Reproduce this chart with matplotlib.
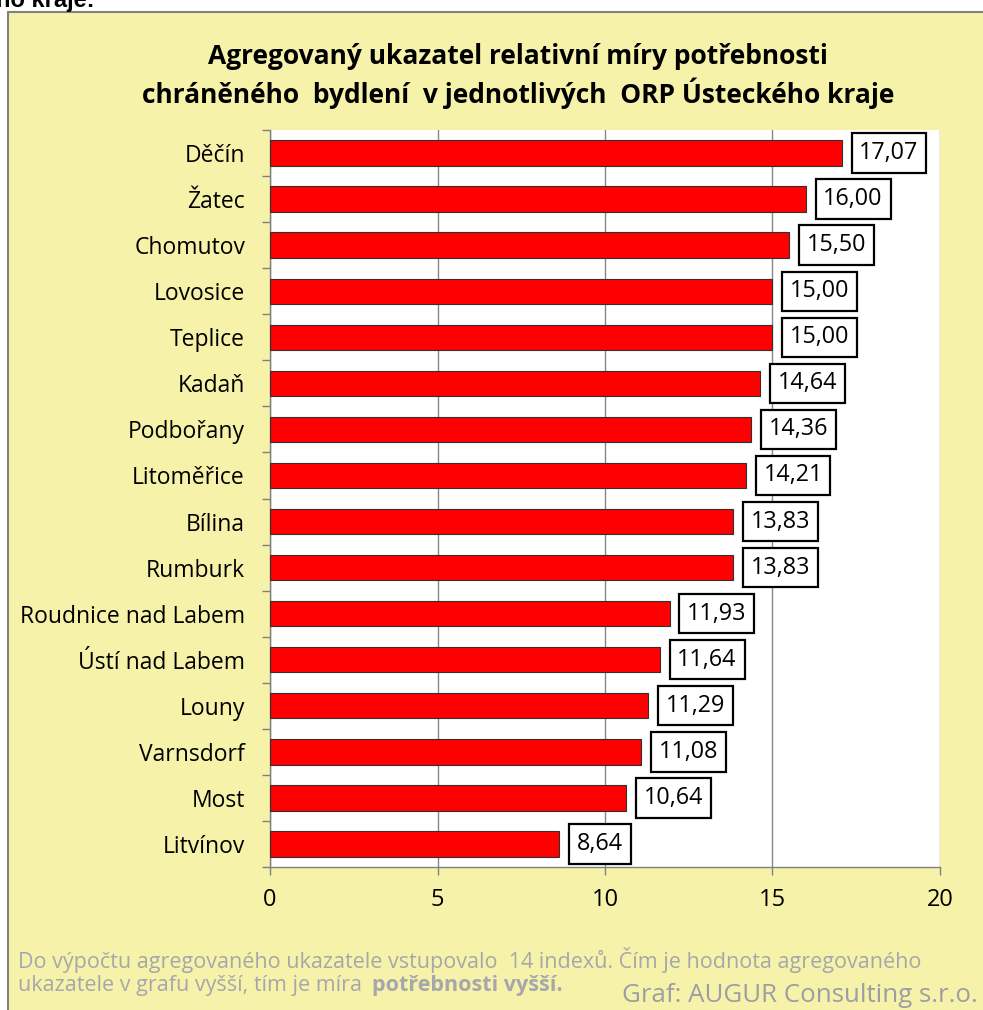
import matplotlib.pyplot as plt
from matplotlib.patches import Rectangle

# data (top to bottom as shown)
towns = ["Děčín", "Žatec", "Chomutov", "Lovosice", "Teplice", "Kadaň", "Podbořany",
         "Litoměřice", "Bílina", "Rumburk", "Roudnice nad Labem", "Ústí nad Labem",
         "Louny", "Varnsdorf", "Most", "Litvínov"]
values = [17.07, 16.00, 15.50, 15.00, 15.00, 14.64, 14.36, 14.21, 13.83, 13.83,
          11.93, 11.64, 11.29, 11.08, 10.64, 8.64]
xticks = [0, 5, 10, 15, 20]

FONT = ["Open Sans", "DejaVu Sans"]
YELLOW = "#F6F2A9"
GREY_TXT = "#A6A7AD"

fig = plt.figure(figsize=(9.83, 10.10), dpi=100)
fig.patch.set_facecolor("white")

# yellow chart panel with grey border
fig.patches.append(Rectangle((8 / 983, -0.1), 1.1, 1 - 12 / 1010 + 0.1,
                             transform=fig.transFigure, facecolor=YELLOW,
                             edgecolor="#808080", linewidth=1.5, zorder=-10))

# cut-off heading from the surrounding document
fig.text(-4 / 983, 1 - 1 / 1010, "ho kraje:", fontsize=17, fontweight="bold",
         family=["Liberation Sans", "DejaVu Sans"], ha="left", va="center")

ax = fig.add_axes([270 / 983, 1 - 867 / 1010, 670 / 983, 737 / 1010])
ax.set_facecolor("white")

ypos = list(range(len(towns)))
ax.barh(ypos, values, height=0.55, color="#FF0000", edgecolor="#303030",
        linewidth=0.8, zorder=3)

for y, v in zip(ypos, values):
    ax.annotate(f"{v:.2f}".replace(".", ","), xy=(v, y), xytext=(12.5, 0),
                textcoords="offset points", ha="left", va="center",
                fontsize=16.8, family=FONT, zorder=5,
                bbox=dict(boxstyle="square,pad=0.33", facecolor="white",
                          edgecolor="black", linewidth=1.6))

ax.set_xlim(0, 20)
ax.set_ylim(len(towns) - 0.5, -0.5)
ax.set_xticks(xticks)
ax.set_xticklabels([str(t) for t in xticks], fontsize=17, family=FONT)
ax.set_yticks(ypos)
ax.set_yticklabels(towns, fontsize=16.5, family=FONT)
ax.set_yticks([i - 0.5 for i in range(len(towns) + 1)], minor=True)
ax.tick_params(axis="y", which="major", length=0, pad=18)
ax.tick_params(axis="y", which="minor", length=6, color="#808080", width=1)
ax.tick_params(axis="x", length=6, color="#808080", width=1, pad=9)

ax.grid(axis="x", color="#868686", linewidth=1, zorder=0)
ax.set_axisbelow(True)
for s in ["top", "right"]:
    ax.spines[s].set_visible(False)
for s in ["left", "bottom"]:
    ax.spines[s].set_color("#808080")
    ax.spines[s].set_linewidth(1)

fig.text(0.527, 1 - 76 / 1010,
         "Agregovaný ukazatel relativní míry potřebnosti\n"
         "chráněného  bydlení  v jednotlivých  ORP Ústeckého kraje",
         ha="center", va="center", fontsize=19, fontweight="bold", family=FONT,
         linespacing=1.3)

fig.text(18 / 983, 1 - 960 / 1010,
         "Do výpočtu agregovaného ukazatele vstupovalo  14 indexů. Čím je hodnota agregovaného",
         ha="left", va="center", fontsize=15.5, color=GREY_TXT, family=FONT)
t1 = fig.text(18 / 983, 1 - 986 / 1010, "ukazatele v grafu vyšší, tím je míra ",
              ha="left", va="center", fontsize=15.5, color=GREY_TXT, family=FONT)
r = fig.canvas.get_renderer()
x_end = t1.get_window_extent(r).x1
fig.text(x_end / 983 + 4 / 983, 1 - 986 / 1010, "potřebnosti vyšší.",
         ha="left", va="center", fontsize=15.5, color=GREY_TXT, family=FONT,
         fontweight="bold")
fig.text(978 / 983, 1 - 995 / 1010, "Graf: AUGUR Consulting s.r.o.",
         ha="right", va="center", fontsize=18.6, color="#9B9EA6", family=FONT)

fig.savefig("out.png", dpi=100, facecolor=fig.get_facecolor())
